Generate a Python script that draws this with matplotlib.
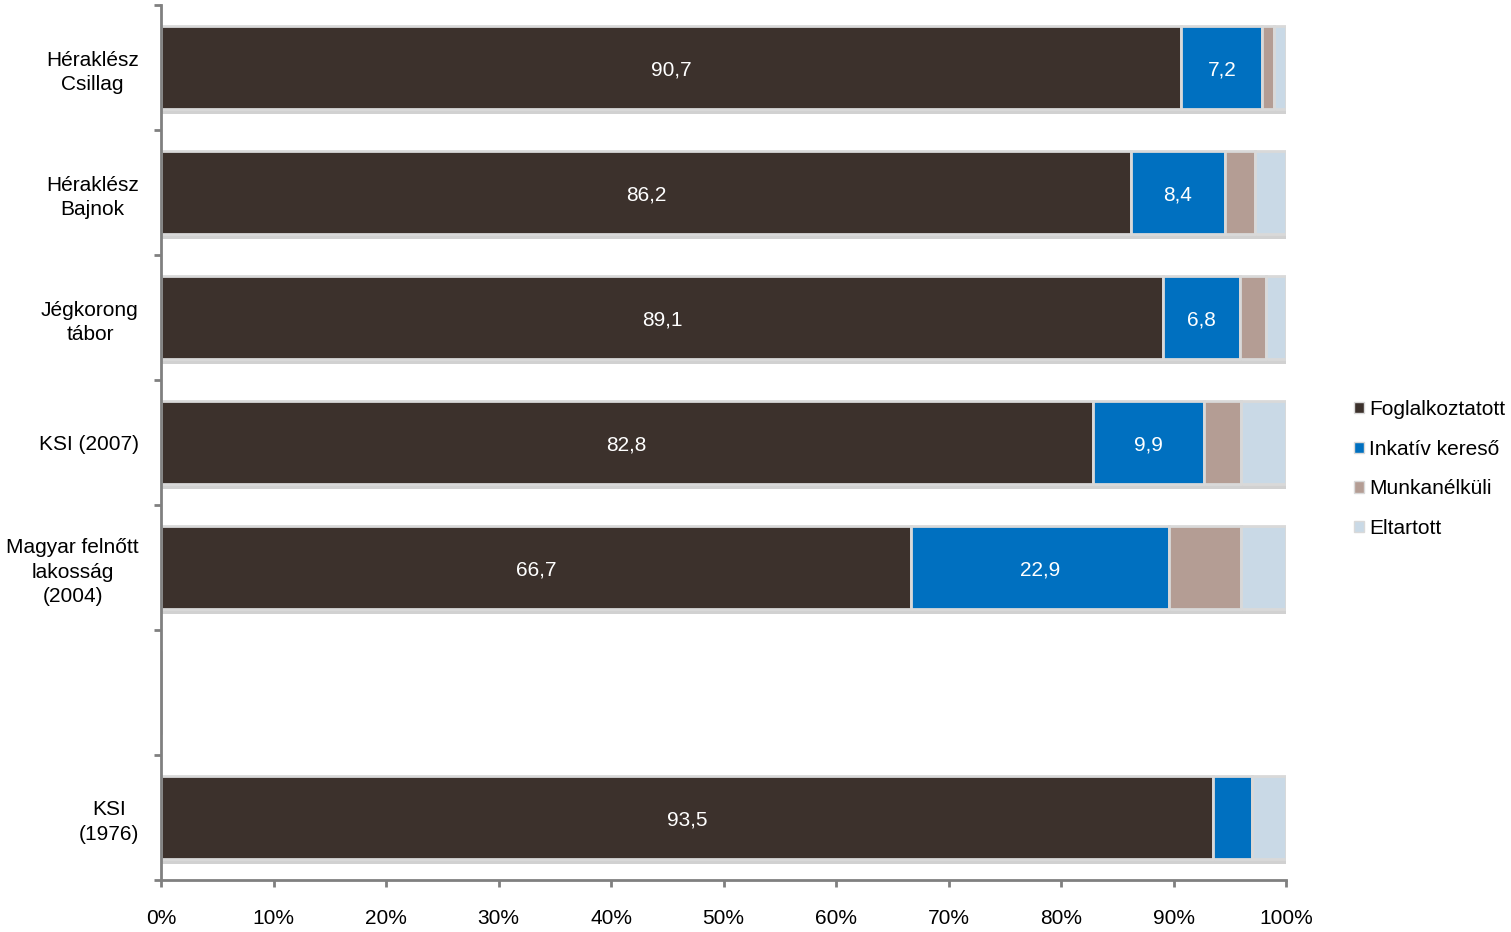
import numpy as np
import matplotlib
matplotlib.use('Agg')
import matplotlib.pyplot as plt
import matplotlib.patheffects as pe

plt.rcParams['font.family'] = ['Liberation Sans', 'DejaVu Sans']

# data (percent), top to bottom; empty slot between 2004 and 1976
categories = ['Héraklész\nCsillag', 'Héraklész\nBajnok', 'Jégkorong\ntábor', 'KSI (2007)',
              'Magyar felnőtt\nlakosság\n(2004)', '', 'KSI\n(1976)']
foglalkoztatott = [90.7, 86.2, 89.1, 82.8, 66.7, 0, 93.5]
inkativ = [7.2, 8.4, 6.8, 9.9, 22.9, 0, 3.5]
munkanelkuli = [1.0, 2.6, 2.3, 3.3, 6.4, 0, 0.0]
eltartott = [1.1, 2.8, 1.8, 4.0, 4.0, 0, 3.0]
series_names = ['Foglalkoztatott', 'Inkatív kereső', 'Munkanélküli', 'Eltartott']
colors = ['#3c312c', '#0070c0', '#b49d94', '#c9d9e6']
# which values get a label
show_label = [[True, True, True, True, True, False, True],
              [True, True, True, True, True, False, False],
              [False] * 7,
              [False] * 7]

fs = 15

fig = plt.figure(figsize=(15.11, 9.32), dpi=100)
ax = fig.add_axes([0.1066, 0.0558, 0.7445, 0.9388])

y = np.arange(len(categories))
series = [foglalkoztatott, inkativ, munkanelkuli, eltartott]
left = np.zeros(len(categories))
shadow = [pe.SimplePatchShadow(offset=(1, -3), shadow_rgbFace='#999999', alpha=0.45), pe.Normal()]
handles = []
for i, vals in enumerate(series):
    vals = np.array(vals)
    bars = ax.barh(y, vals, left=left, height=0.67, color=colors[i],
                   edgecolor='#d9d9d9', linewidth=2, label=series_names[i])
    for b, v in zip(bars, vals):
        if v > 0:
            b.set_path_effects(shadow)
    for j, v in enumerate(vals):
        if show_label[i][j] and v > 0:
            ax.text(left[j] + v / 2, y[j] + 0.02, ('%.1f' % v).replace('.', ','),
                    ha='center', va='center', color='white', fontsize=fs)
    handles.append(bars)
    left = left + vals

ax.set_xlim(0, 100)
ax.set_ylim(len(categories) - 0.5, -0.5)
ax.set_xticks(np.arange(0, 101, 10))
ax.set_xticklabels(['%d%%' % v for v in range(0, 101, 10)], fontsize=fs)
ax.set_yticks(np.arange(-0.5, len(categories), 1))
ax.set_yticklabels([])
ax.set_yticks(y, minor=True)
ax.set_yticklabels(categories, minor=True, fontsize=fs, ha='right',
                   multialignment='center', linespacing=1.35)
ax.tick_params(axis='y', which='minor', length=0, pad=16)
ax.tick_params(axis='y', which='major', length=5, color='#808080', width=2)
ax.tick_params(axis='x', length=5, color='#808080', width=2, pad=16)

for s in ['top', 'right']:
    ax.spines[s].set_visible(False)
for s in ['left', 'bottom']:
    ax.spines[s].set_color('#808080')
    ax.spines[s].set_linewidth(2)

leg = fig.legend(handles=handles, labels=series_names, loc='center left',
                 bbox_to_anchor=(0.8963, 0.4968), frameon=False, fontsize=fs,
                 handlelength=0.45, handleheight=0.45, handletextpad=0.25,
                 labelspacing=1.0, borderaxespad=0, borderpad=0)
for h in leg.legend_handles:
    h.set_path_effects([])
    h.set_linewidth(1)

fig.savefig('out.png', dpi=100)
